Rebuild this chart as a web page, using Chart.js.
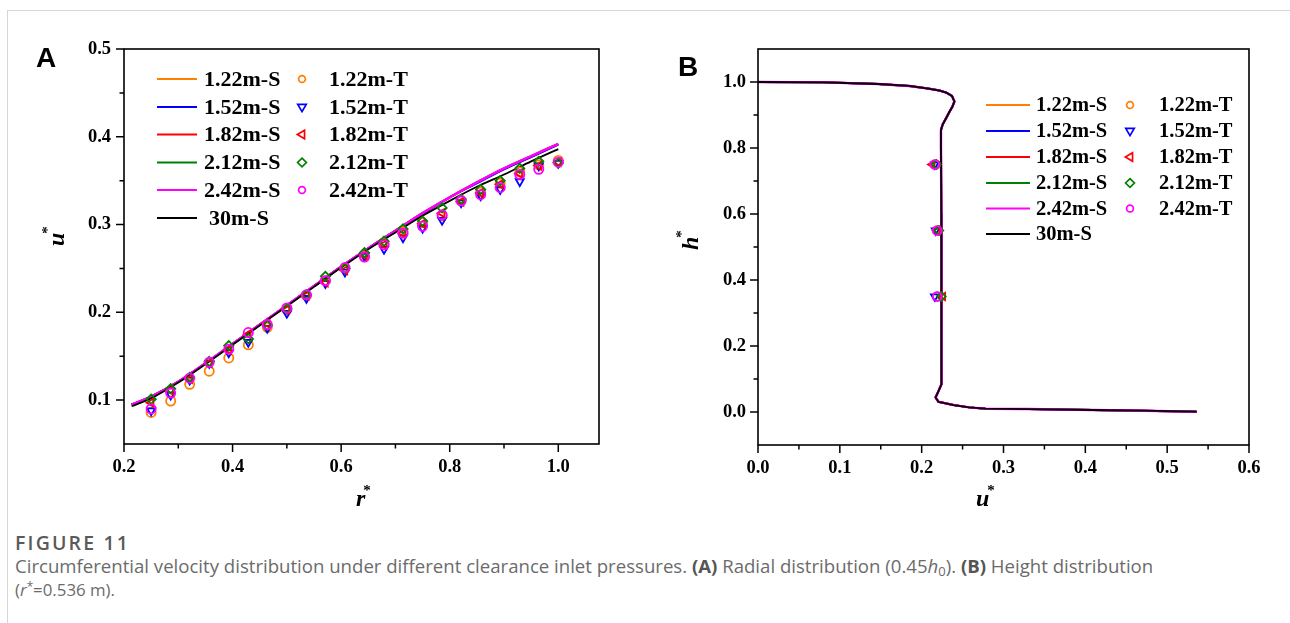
<!DOCTYPE html>
<html>
<head>
<meta charset="utf-8">
<script src="https://cdn.jsdelivr.net/npm/chart.js@4/dist/chart.umd.min.js"></script>
<style>
  html, body { margin: 0; padding: 0; background: #fff; }
  #wrap { position: relative; width: 1290px; height: 623px; background: #fff; overflow: hidden; }
  #frame { position: absolute; left: 7px; top: 10px; width: 1400px; height: 700px; border: 1px solid #d6d6d6; }
  canvas { position: absolute; top: 0; }
  .cap { position: absolute; left: 15px; white-space: nowrap; font-family: "Open Sans", "Noto Sans", sans-serif; line-height: 1; }
  #figlab { color: #5a5a5a; font-weight: 600; }
  .capt { color: #6b6b6b; }
  .capt b { color: #555; font-weight: 700; }
  sub { font-size: 0.7em; vertical-align: -0.25em; line-height: 0; }
  sup { font-size: 0.7em; vertical-align: 0.45em; line-height: 0; }
</style>
</head>
<body>
<div id="wrap">
  <div id="frame"></div>
  <canvas id="cA" width="640" height="520" style="left:0px"></canvas>
  <canvas id="cB" width="650" height="520" style="left:640px"></canvas>
  <div id="figlab" class="cap">FIGURE 11</div>
  <div id="cap1" class="cap capt">Circumferential velocity distribution under different clearance inlet pressures. <b>(A)</b> Radial distribution (0.45<i>h</i><sub>0</sub>). <b>(B)</b> Height distribution</div>
  <div id="cap2" class="cap capt">(<i>r</i><sup>*</sup>=0.536 m).</div>
</div>
<script>
// ---------------- DATA: panel A (radial distribution) ----------------
const seriesNames = ['1.22m', '1.52m', '1.82m', '2.12m', '2.42m'];
const refName = '30m';

// simulation lines (S)
const rS = [0.214, 0.25, 0.30, 0.35, 0.40, 0.45, 0.50, 0.55, 0.60, 0.65, 0.70, 0.75, 0.80, 0.85, 0.90, 0.95, 1.00];
const uS_122 = [0.095, 0.104, 0.121, 0.142, 0.164, 0.186, 0.208, 0.230, 0.252, 0.273, 0.293, 0.313, 0.331, 0.348, 0.363, 0.377, 0.391];
const uS_152 = [0.095, 0.104, 0.121, 0.142, 0.164, 0.186, 0.208, 0.230, 0.252, 0.273, 0.293, 0.312, 0.331, 0.347, 0.363, 0.377, 0.391];
const uS_182 = [0.095, 0.104, 0.121, 0.142, 0.164, 0.186, 0.208, 0.230, 0.252, 0.273, 0.293, 0.313, 0.331, 0.348, 0.364, 0.378, 0.392];
const uS_212 = [0.095, 0.104, 0.121, 0.142, 0.164, 0.186, 0.208, 0.230, 0.252, 0.273, 0.293, 0.313, 0.331, 0.348, 0.364, 0.378, 0.392];
const uS_242 = [0.095, 0.104, 0.121, 0.142, 0.164, 0.186, 0.208, 0.230, 0.252, 0.273, 0.293, 0.313, 0.331, 0.348, 0.364, 0.378, 0.392];
const uS_30  = [0.093, 0.102, 0.120, 0.141, 0.163, 0.185, 0.207, 0.229, 0.251, 0.272, 0.291, 0.310, 0.327, 0.343, 0.357, 0.372, 0.386];

// test points (T)
const rT = [0.250, 0.286, 0.321, 0.357, 0.393, 0.429, 0.464, 0.500, 0.536, 0.571, 0.607, 0.643, 0.679, 0.714, 0.750, 0.786, 0.821, 0.857, 0.893, 0.929, 0.964, 1.000];
const uT_122 = [0.086, 0.099, 0.118, 0.133, 0.148, 0.163, 0.183, 0.203, 0.219, 0.236, 0.250, 0.264, 0.279, 0.292, 0.302, 0.310, 0.327, 0.337, 0.347, 0.360, 0.368, 0.373];
const uT_152 = [0.088, 0.106, 0.123, 0.142, 0.154, 0.166, 0.182, 0.199, 0.216, 0.233, 0.246, 0.264, 0.272, 0.285, 0.296, 0.305, 0.325, 0.333, 0.340, 0.349, 0.367, 0.370];
const uT_182 = [0.097, 0.111, 0.124, 0.142, 0.157, 0.175, 0.187, 0.203, 0.219, 0.234, 0.248, 0.265, 0.277, 0.290, 0.301, 0.313, 0.326, 0.336, 0.346, 0.358, 0.367, 0.371];
const uT_212 = [0.101, 0.113, 0.126, 0.144, 0.162, 0.170, 0.185, 0.204, 0.220, 0.241, 0.250, 0.268, 0.281, 0.295, 0.304, 0.319, 0.329, 0.340, 0.350, 0.364, 0.372, 0.370];
const uT_242 = [0.090, 0.108, 0.125, 0.143, 0.158, 0.177, 0.186, 0.205, 0.220, 0.236, 0.251, 0.263, 0.277, 0.290, 0.298, 0.311, 0.327, 0.334, 0.342, 0.357, 0.363, 0.371];

const xTicksA = [0.2, 0.4, 0.6, 0.8, 1.0];
const xMinorA = [0.3, 0.5, 0.7, 0.9];
const yTicksA = [0.1, 0.2, 0.3, 0.4, 0.5];
const yMinorA = [0.15, 0.25, 0.35, 0.45];

// ---------------- DATA: panel B (height distribution) ----------------
const hS = [1.000, 0.999, 0.994, 0.988, 0.980, 0.974, 0.968, 0.958, 0.941, 0.925, 0.912, 0.891, 0.872, 0.855, 0.800, 0.600, 0.400, 0.200, 0.084, 0.060, 0.044, 0.031, 0.021, 0.014, 0.010, 0.009, 0.006, 0.004, 0.001];
const uB_122 = [0.000, 0.080, 0.147, 0.185, 0.208, 0.222, 0.230, 0.237, 0.240, 0.2375, 0.2345, 0.230, 0.2258, 0.2236, 0.2236, 0.2240, 0.2242, 0.2242, 0.2240, 0.220, 0.217, 0.2205, 0.239, 0.258, 0.278, 0.330, 0.409, 0.470, 0.536];
const uB_152 = [0.000, 0.080, 0.147, 0.185, 0.208, 0.222, 0.230, 0.237, 0.240, 0.2375, 0.2345, 0.230, 0.2258, 0.2236, 0.2236, 0.2240, 0.2242, 0.2242, 0.2240, 0.220, 0.217, 0.2205, 0.239, 0.258, 0.278, 0.330, 0.409, 0.470, 0.536];
const uB_182 = [0.000, 0.080, 0.147, 0.185, 0.208, 0.222, 0.230, 0.237, 0.240, 0.2375, 0.2345, 0.230, 0.2258, 0.2236, 0.2236, 0.2240, 0.2242, 0.2242, 0.2240, 0.220, 0.217, 0.2205, 0.239, 0.258, 0.278, 0.330, 0.409, 0.470, 0.536];
const uB_212 = [0.000, 0.080, 0.147, 0.185, 0.208, 0.222, 0.230, 0.237, 0.240, 0.2375, 0.2345, 0.230, 0.2258, 0.2236, 0.2236, 0.2240, 0.2242, 0.2242, 0.2240, 0.220, 0.217, 0.2205, 0.239, 0.258, 0.278, 0.330, 0.409, 0.470, 0.536];
const uB_242 = [0.000, 0.080, 0.147, 0.185, 0.208, 0.222, 0.230, 0.237, 0.240, 0.2375, 0.2345, 0.230, 0.2258, 0.2236, 0.2236, 0.2240, 0.2242, 0.2242, 0.2240, 0.220, 0.217, 0.2205, 0.239, 0.258, 0.278, 0.330, 0.409, 0.470, 0.536];
const uB_30  = [0.000, 0.080, 0.147, 0.185, 0.208, 0.222, 0.230, 0.237, 0.240, 0.2375, 0.2345, 0.230, 0.2258, 0.2236, 0.2236, 0.2240, 0.2242, 0.2242, 0.2240, 0.220, 0.217, 0.2205, 0.239, 0.258, 0.278, 0.330, 0.409, 0.470, 0.536];

const hT = [0.75, 0.55, 0.35];
const uBT_122 = [0.217, 0.219, 0.219];
const uBT_152 = [0.216, 0.217, 0.216];
const uBT_182 = [0.213, 0.219, 0.226];
const uBT_212 = [0.218, 0.221, 0.224];
const uBT_242 = [0.216, 0.219, 0.219];

const xTicksB = [0.0, 0.1, 0.2, 0.3, 0.4, 0.5, 0.6];
const xMinorB = [0.05, 0.15, 0.25, 0.35, 0.45, 0.55];
const yTicksB = [0.0, 0.2, 0.4, 0.6, 0.8, 1.0];
const yMinorB = [0.1, 0.3, 0.5, 0.7, 0.9];

// ---------------- styles ----------------
const colors = ['#FF8000', '#0000FF', '#FF0000', '#008000', '#FF00FF'];
const refColor = '#000000';
const markers = [
  { style: 'circle', rot: 0 },
  { style: 'triangle', rot: 180 },
  { style: 'triangle', rot: -90 },
  { style: 'rectRot', rot: 0 },
  { style: 'circle', rot: 0 }
];
const SERIF = '"Liberation Serif", "Times New Roman", serif';

function pts(xs, ys) { return xs.map((x, i) => ({ x: x, y: ys[i] })); }
function ptsHV(us, hs) { return hs.map((h, i) => ({ x: us[i], y: h })); }

function lineDs(label, data, color, order, width, tension) {
  return { label, data, showLine: true, borderColor: color, backgroundColor: color, borderWidth: width,
           pointRadius: 0, pointHoverRadius: 0, tension: tension, fill: false, order: order };
}
function markDs(label, data, i, radius) {
  return { label, data, showLine: false, borderColor: colors[i], backgroundColor: 'rgba(0,0,0,0)',
           pointBorderColor: colors[i], pointBackgroundColor: 'rgba(0,0,0,0)', pointBorderWidth: 1.8,
           pointStyle: markers[i].style, pointRotation: markers[i].rot, pointRadius: radius, pointHoverRadius: radius,
           order: 6 - i };
}

// legend marker drawing
function drawMarker(ctx, i, x, y, r) {
  ctx.save();
  ctx.strokeStyle = colors[i];
  ctx.lineWidth = 1.7;
  ctx.beginPath();
  const m = markers[i];
  if (m.style === 'circle') {
    ctx.arc(x, y, r, 0, Math.PI * 2);
  } else if (m.style === 'rectRot') {
    const d = r * 1.3;
    ctx.moveTo(x, y - d); ctx.lineTo(x + d, y); ctx.lineTo(x, y + d); ctx.lineTo(x - d, y); ctx.closePath();
  } else if (m.rot === 180) {
    const d = r * 1.25;
    ctx.moveTo(x - d, y - d * 0.6); ctx.lineTo(x + d, y - d * 0.6); ctx.lineTo(x, y + d * 1.1); ctx.closePath();
  } else {
    const d = r * 1.25;
    ctx.moveTo(x + d * 0.6, y - d); ctx.lineTo(x + d * 0.6, y + d); ctx.lineTo(x - d * 1.1, y); ctx.closePath();
  }
  ctx.stroke();
  ctx.restore();
}

const decor = {
  id: 'decor',
  afterDatasetsDraw(chart, args, o) {
    const { ctx, chartArea: a } = chart;
    const x = chart.scales.x, y = chart.scales.y;
    ctx.save();
    // frame
    ctx.strokeStyle = '#000';
    ctx.lineWidth = 1.6;
    ctx.strokeRect(a.left, a.top, a.right - a.left, a.bottom - a.top);
    // ticks (outside, bottom and left)
    ctx.beginPath();
    o.xMajor.forEach(v => { const p = x.getPixelForValue(v); ctx.moveTo(p, a.bottom); ctx.lineTo(p, a.bottom + 8); });
    o.xMinor.forEach(v => { const p = x.getPixelForValue(v); ctx.moveTo(p, a.bottom); ctx.lineTo(p, a.bottom + 4.5); });
    o.yMajor.forEach(v => { const p = y.getPixelForValue(v); ctx.moveTo(a.left, p); ctx.lineTo(a.left - 8, p); });
    o.yMinor.forEach(v => { const p = y.getPixelForValue(v); ctx.moveTo(a.left, p); ctx.lineTo(a.left - 4.5, p); });
    ctx.lineWidth = 1.5;
    ctx.stroke();

    // legend
    const L = o.legend;
    ctx.font = 'bold ' + L.font + 'px ' + SERIF;
    ctx.textBaseline = 'middle';
    ctx.fillStyle = '#000';
    const rows = seriesNames.length + 1;
    for (let r = 0; r < rows; r++) {
      const yy = L.rows[r];
      const col = r < seriesNames.length ? colors[r] : refColor;
      ctx.strokeStyle = col; ctx.lineWidth = 2;
      ctx.beginPath(); ctx.moveTo(L.lx0, yy); ctx.lineTo(L.lx1, yy); ctx.stroke();
      const sLabel = r < seriesNames.length ? seriesNames[r] + '-S' : refName + '-S';
      ctx.fillStyle = '#000';
      ctx.fillText(sLabel, r < seriesNames.length ? L.tx : L.tx + L.refIndent, yy + 1);
      if (r < seriesNames.length) {
        drawMarker(ctx, r, L.mx, yy, L.mr);
        ctx.fillStyle = '#000';
        ctx.fillText(seriesNames[r] + '-T', L.tx2, yy + 1);
      }
    }

    // axis titles
    const T = o.titles;
    ctx.fillStyle = '#000';
    ctx.textBaseline = 'alphabetic';
    ctx.font = 'italic bold ' + T.size + 'px ' + SERIF;
    ctx.textAlign = 'left';
    ctx.fillText(T.xt, T.xx, T.xy);
    const xw = ctx.measureText(T.xt).width;
    ctx.font = 'bold ' + T.star + 'px ' + SERIF;
    ctx.fillText('*', T.xx + xw - 2, T.xy - 11);
    ctx.save();
    ctx.translate(T.yx, T.yy);
    ctx.rotate(-Math.PI / 2);
    ctx.font = 'italic bold ' + T.size + 'px ' + SERIF;
    ctx.fillText(T.yt, 0, 0);
    const yw = ctx.measureText(T.yt).width;
    ctx.font = 'bold ' + T.star + 'px ' + SERIF;
    ctx.fillText('*', yw - 1, -12);
    ctx.restore();

    // panel letter
    ctx.font = 'bold 28px "Liberation Sans", Arial, sans-serif';
    ctx.textAlign = 'left';
    ctx.fillText(o.panel.text, o.panel.x, o.panel.y);
    ctx.restore();
  }
};

function scaleOpts(min, max, ticks, fitProp, fitVal, padding) {
  return {
    type: 'linear', min: min, max: max,
    grid: { display: false, drawTicks: false, tickLength: 0 },
    border: { display: false },
    afterBuildTicks: s => { s.ticks = ticks.map(v => ({ value: v })); },
    afterFit: s => { s[fitProp] = fitVal; },
    ticks: {
      autoSkip: false, maxRotation: 0, minRotation: 0, padding: padding, color: '#000',
      font: { family: SERIF, size: 18.5, weight: 'bold' },
      callback: v => Number(v).toFixed(1)
    }
  };
}

Chart.defaults.animation = false;

// ---------- Chart A ----------
const dsA = [
  lineDs('1.22m-S', pts(rS, uS_122), colors[0], 16, 2, 0.3),
  lineDs('1.52m-S', pts(rS, uS_152), colors[1], 15, 2, 0.3),
  lineDs('1.82m-S', pts(rS, uS_182), colors[2], 14, 2, 0.3),
  lineDs('2.12m-S', pts(rS, uS_212), colors[3], 13, 2, 0.3),
  lineDs('2.42m-S', pts(rS, uS_242), colors[4], 12, 2.4, 0.3),
  lineDs('30m-S', pts(rS, uS_30), refColor, 11, 1.8, 0.3),
  markDs('1.22m-T', pts(rT, uT_122), 0, 4.6),
  markDs('1.52m-T', pts(rT, uT_152), 1, 4.6),
  markDs('1.82m-T', pts(rT, uT_182), 2, 4.6),
  markDs('2.12m-T', pts(rT, uT_212), 3, 4.6),
  markDs('2.42m-T', pts(rT, uT_242), 4, 4.6)
];

new Chart(document.getElementById('cA'), {
  type: 'scatter',
  data: { datasets: dsA },
  plugins: [decor],
  options: {
    responsive: false, devicePixelRatio: 1, events: [],
    layout: { padding: { left: 0, top: 49, right: 41, bottom: 0 } },
    scales: {
      x: scaleOpts(0.2, 1.075, xTicksA, 'height', 76, 12),
      y: scaleOpts(0.05, 0.5, yTicksA, 'width', 124, 13)
    },
    plugins: {
      legend: { display: false }, tooltip: { enabled: false },
      decor: {
        xMajor: xTicksA, xMinor: xMinorA, yMajor: yTicksA, yMinor: yMinorA,
        legend: { font: 22, rows: [79, 107, 134.5, 162.5, 190, 218], lx0: 157, lx1: 197, tx: 204, refIndent: 5, mx: 302, mr: 3.4, tx2: 329 },
        titles: { size: 24, star: 15, xt: 'r', xx: 356, xy: 506, yt: 'u', yx: 64, yy: 246 },
        panel: { text: 'A', x: 36, y: 67 }
      }
    }
  }
});

// ---------- Chart B ----------
const dsB = [
  lineDs('1.22m-S', ptsHV(uB_122, hS), colors[0], 16, 2, 0),
  lineDs('1.52m-S', ptsHV(uB_152, hS), colors[1], 15, 2, 0),
  lineDs('1.82m-S', ptsHV(uB_182, hS), colors[2], 14, 2, 0),
  lineDs('2.12m-S', ptsHV(uB_212, hS), colors[3], 13, 2, 0),
  lineDs('2.42m-S', ptsHV(uB_242, hS), colors[4], 12, 2.4, 0),
  lineDs('30m-S', ptsHV(uB_30, hS), refColor, 11, 1.8, 0),
  markDs('1.22m-T', ptsHV(uBT_122, hT), 0, 4.4),
  markDs('1.52m-T', ptsHV(uBT_152, hT), 1, 4.4),
  markDs('1.82m-T', ptsHV(uBT_182, hT), 2, 4.4),
  markDs('2.12m-T', ptsHV(uBT_212, hT), 3, 4.4),
  markDs('2.42m-T', ptsHV(uBT_242, hT), 4, 4.4)
];

new Chart(document.getElementById('cB'), {
  type: 'scatter',
  data: { datasets: dsB },
  plugins: [decor],
  options: {
    responsive: false, devicePixelRatio: 1, events: [],
    layout: { padding: { left: 0, top: 49, right: 41, bottom: 0 } },
    scales: {
      x: scaleOpts(0.0, 0.6, xTicksB, 'height', 75, 12),
      y: scaleOpts(-0.1, 1.1, yTicksB, 'width', 118, 12)
    },
    plugins: {
      legend: { display: false }, tooltip: { enabled: false },
      decor: {
        xMajor: xTicksB, xMinor: xMinorB, yMajor: yTicksB, yMinor: yMinorB,
        legend: { font: 20.5, rows: [105, 131, 157, 183, 208.5, 234], lx0: 346, lx1: 390, tx: 396, refIndent: 0, mx: 490, mr: 3.4, tx2: 519 },
        titles: { size: 24, star: 15, xt: 'u', xx: 336, xy: 506, yt: 'h', yx: 58, yy: 250 },
        panel: { text: 'B', x: 38, y: 76 }
      }
    }
  }
});

// ---------- caption fitting ----------
function fit(id, targetW, baseline, size) {
  const el = document.getElementById(id);
  el.style.fontSize = size + 'px';
  const w = el.getBoundingClientRect().width;
  const s = size * targetW / w;
  el.style.fontSize = s + 'px';
  el.style.top = (baseline - 0.888 * s) + 'px';
}
function fitSpacing(id, targetW, baseline, size) {
  const el = document.getElementById(id);
  el.style.fontSize = size + 'px';
  el.style.letterSpacing = '0px';
  const n = el.textContent.length;
  const w = el.getBoundingClientRect().width;
  el.style.letterSpacing = Math.max(0, (targetW - w) / n) + 'px';
  el.style.top = (baseline - 0.888 * size) + 'px';
}
fitSpacing('figlab', 115, 550, 19.5);
fit('cap1', 1139, 573.5, 17);
fit('cap2', 100, 596.5, 17);
</script>
</body>
</html>
